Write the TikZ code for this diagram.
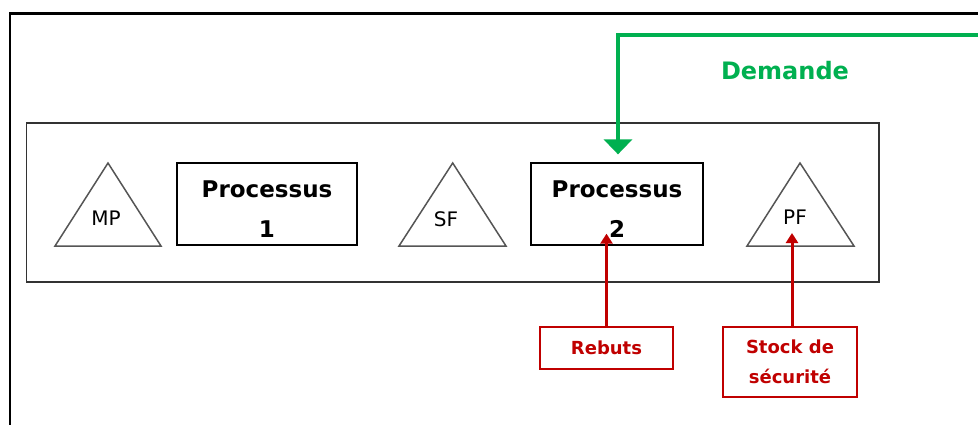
\documentclass[tikz,border=0pt]{standalone}
\usepackage{fontspec}
\setmainfont{DejaVu Sans}
\usetikzlibrary{arrows.meta,calc}
\definecolor{dgreen}{HTML}{00B050}
\definecolor{dred}{HTML}{C00000}
\definecolor{tgrey}{HTML}{555555}
\definecolor{fgrey}{HTML}{333333}
\begin{document}
\begin{tikzpicture}[x=1pt,y=-1pt,
  procbox/.style={draw=black,line width=1.3pt,minimum width=180pt,minimum height=82pt,
    inner sep=0pt,align=center,font=\fontsize{23}{40}\selectfont\bfseries,text height=66pt,text depth=0pt},
  redbox/.style={draw=dred,line width=1.5pt,inner sep=0pt,align=center,text=dred,
    font=\fontsize{18}{30}\selectfont\bfseries},
  tritext/.style={inner sep=0pt,font=\fontsize{20}{22}\selectfont},
  tri/.style={draw=tgrey,line width=1.5pt,line join=miter},
  greenarrow/.style={draw=dgreen,line width=4pt,-{Triangle[width=28pt,length=15pt]}},
  redarrow/.style={draw=dred,line width=3pt,-{Triangle[width=12pt,length=10pt]}}
]
\useasboundingbox (0,0) rectangle (978,424);
\fill[white] (0,0) rectangle (978,424);
% outer frame (only left and top edges visible)
\draw[line width=2.5pt] (10,440) -- (10,13.5) -- (995,13.5);
% inner frame
\node[draw=fgrey,line width=1.7pt,minimum width=852.5pt,minimum height=159pt,inner sep=0pt] (sys) at (452.75,202.5) {};
% triangles
\draw[tri] (55,246) -- (108,163) -- (161,246) -- cycle;
\draw[tri] (399,246) -- (452.7,163) -- (506,246) -- cycle;
\draw[tri] (747,246) -- (800,163) -- (854,246) -- cycle;
\coordinate (pfb) at (800,246);
\node[tritext] (mp) at (106,218) {MP};
\node[tritext] (sf) at (446,219) {SF};
\node[tritext] (pf) at (795,217) {PF};
% process boxes
\node[procbox] (p1) at (267,204) {Processus\\1};
\node[procbox,minimum width=172pt] (p2) at (617,204) {Processus\\2};
% red boxes
\node[redbox,minimum width=133pt,minimum height=42pt] (reb) at (606.5,348) {Rebuts};
\node[redbox,minimum width=134pt,minimum height=70pt] (sto) at (790,362) {Stock de\\sécurité};
% demand
\coordinate (demsrc) at (995,35);
\draw[greenarrow] (demsrc) -| ($(p2.north)+(1,-8)$);
\node[text=dgreen,font=\fontsize{24}{28}\selectfont\bfseries,inner sep=0pt] (dem) at (785,71) {Demande};
% red arrows
\draw[redarrow] (reb.north) -- ($(reb.north |- p2.south)+(0,-12)$);
\draw[redarrow] ([xshift=2pt]sto.north) -- ($([xshift=2pt]sto.north |- pfb)+(0,-13)$);
\end{tikzpicture}
\end{document}
